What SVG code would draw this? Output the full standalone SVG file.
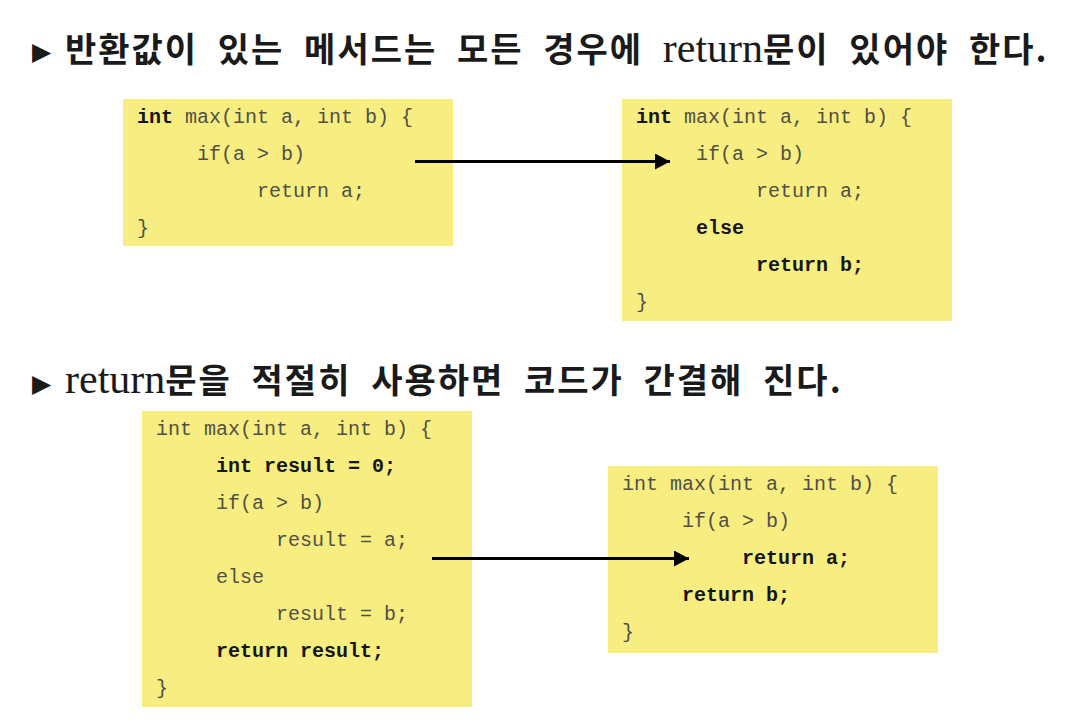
<svg xmlns="http://www.w3.org/2000/svg" width="1070" height="720" viewBox="0 0 1070 720">
<style>
.box{fill:#F7ED80}
.code{font-family:"Liberation Mono","Courier New",monospace;font-size:20px;fill:#505046;white-space:pre}
.b{font-weight:bold;fill:#151515}
.head{font-family:"Noto Sans CJK KR",sans-serif;font-weight:700;font-size:34px;fill:#1a1a1a;letter-spacing:2px}
.lat{font-family:"Liberation Serif","Noto Sans CJK KR",serif;font-weight:400;font-size:42px;letter-spacing:0}
.bul{font-family:"DejaVu Sans",sans-serif;font-size:25px;fill:#1a1a1a}
.conn{stroke:#000;stroke-width:3;fill:none}
</style>
<defs>
<marker id="ah" markerUnits="userSpaceOnUse" markerWidth="16" markerHeight="17" refX="15" refY="8" orient="auto">
<path d="M0,0 L15,8 L0,16 Z" fill="#000"/>
</marker>
</defs>
<rect width="1070" height="720" fill="#fff"/>

<g id="heading1">
<text class="bul" x="32" y="60">▶</text>
<text class="head" x="65" y="62" word-spacing="10">반환값이 있는 메서드는 모든 경우에 <tspan class="lat">return</tspan>문이 있어야 한다.</text>
</g>

<g id="box1">
<rect class="box" x="123" y="99" width="330" height="147"/>
<text class="code" x="137" y="123"><tspan class="b">int</tspan> max(int a, int b) {</text>
<text class="code" x="137" y="160">     if(a &gt; b)</text>
<text class="code" x="137" y="197">          return a;</text>
<text class="code" x="137" y="234">}</text>
</g>

<g id="box2">
<rect class="box" x="622" y="99" width="330" height="222"/>
<text class="code" x="636" y="123"><tspan class="b">int</tspan> max(int a, int b) {</text>
<text class="code" x="636" y="160">     if(a &gt; b)</text>
<text class="code" x="636" y="197">          return a;</text>
<text class="code b" x="636" y="234">     else</text>
<text class="code b" x="636" y="271">          return b;</text>
<text class="code" x="636" y="308">}</text>
</g>

<g id="heading2">
<text class="bul" x="32" y="392">▶</text>
<text class="head" x="65" y="393" word-spacing="10"><tspan class="lat">return</tspan>문을 적절히 사용하면 코드가 간결해 진다.</text>
</g>

<g id="box3">
<rect class="box" x="142" y="411" width="330" height="296"/>
<text class="code" x="156" y="435">int max(int a, int b) {</text>
<text class="code b" x="156" y="472">     int result = 0;</text>
<text class="code" x="156" y="509">     if(a &gt; b)</text>
<text class="code" x="156" y="546">          result = a;</text>
<text class="code" x="156" y="583">     else</text>
<text class="code" x="156" y="620">          result = b;</text>
<text class="code b" x="156" y="657">     return result;</text>
<text class="code" x="156" y="694">}</text>
</g>

<g id="box4">
<rect class="box" x="608" y="466" width="330" height="187"/>
<text class="code" x="622" y="490">int max(int a, int b) {</text>
<text class="code" x="622" y="527">     if(a &gt; b)</text>
<text class="code b" x="622" y="564">          return a;</text>
<text class="code b" x="622" y="601">     return b;</text>
<text class="code" x="622" y="638">}</text>
</g>

<g id="connectors">
<line class="conn" x1="415" y1="161.5" x2="670" y2="161.5" marker-end="url(#ah)"/>
<line class="conn" x1="432" y1="558.5" x2="689" y2="558.5" marker-end="url(#ah)"/>
</g>
</svg>
